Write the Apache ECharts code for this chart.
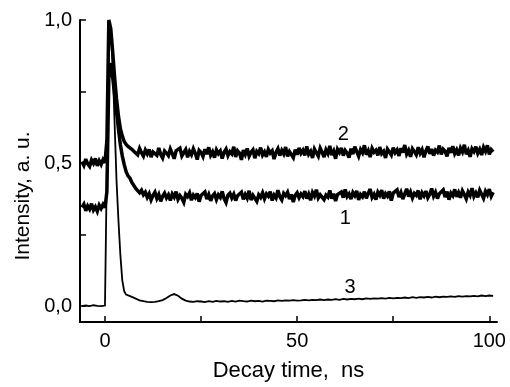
<!DOCTYPE html>
<html>
<head>
<meta charset="utf-8">
<script src="https://cdn.jsdelivr.net/npm/echarts@6/dist/echarts.min.js"></script>
<style>
html,body{margin:0;padding:0;background:#fff;}
#chart{width:510px;height:387px;}
</style>
</head>
<body>
<div id="chart"></div>
<script>
// Decay time, ns (curves 1 and 2, 0.5 ns sampling)
const timesFine = [-6,-5.5,-5,-4.5,-4,-3.5,-3,-2.5,-2,-1.5,-1,-0.5,0,
  0.5,1,1.5,2,2.5,3,3.5,4,4.5,5,5.5,6,
  6.5,7,7.5,8,8.5,9,9.5,10,10.5,11,11.5,12,12.5,13,13.5,14,14.5,15,15.5,16,
  16.5,17,17.5,18,18.5,19,19.5,20,20.5,21,21.5,22,22.5,23,23.5,24,24.5,25,25.5,26,
  26.5,27,27.5,28,28.5,29,29.5,30,30.5,31,31.5,32,32.5,33,33.5,34,34.5,35,35.5,36,
  36.5,37,37.5,38,38.5,39,39.5,40,40.5,41,41.5,42,42.5,43,43.5,44,44.5,45,45.5,46,
  46.5,47,47.5,48,48.5,49,49.5,50,50.5,51,51.5,52,52.5,53,53.5,54,54.5,55,55.5,56,
  56.5,57,57.5,58,58.5,59,59.5,60,60.5,61,61.5,62,62.5,63,63.5,64,64.5,65,65.5,66,
  66.5,67,67.5,68,68.5,69,69.5,70,70.5,71,71.5,72,72.5,73,73.5,74,74.5,75,75.5,76,
  76.5,77,77.5,78,78.5,79,79.5,80,80.5,81,81.5,82,82.5,83,83.5,84,84.5,85,85.5,86,
  86.5,87,87.5,88,88.5,89,89.5,90,90.5,91,91.5,92,92.5,93,93.5,94,94.5,95,95.5,96,
  96.5,97,97.5,98,98.5,99,99.5,100,100.5,101];

// Curve 1
const curve1 = [0.345,0.356,0.333,0.350,0.339,0.358,0.336,0.347,0.331,0.353,0.341,0.355,0.344,
  0.40,0.80,0.85,0.80,0.74,0.68,0.62,0.565,0.525,0.495,0.47,0.455,
  0.447,0.432,0.428,0.411,0.414,0.396,0.405,0.389,0.398,0.380,
  0.393,0.371,0.387,0.398,0.376,0.390,0.366,0.384,0.395,0.378,
  0.389,0.369,0.392,0.381,0.400,0.373,0.386,0.377,0.363,0.391,
  0.383,0.396,0.370,0.388,0.379,0.394,0.365,0.387,0.382,0.399,
  0.374,0.390,0.368,0.385,0.393,0.372,0.389,0.380,0.401,0.376,
  0.362,0.388,0.395,0.378,0.391,0.369,0.386,0.382,0.398,0.373,
  0.390,0.377,0.403,0.371,0.387,0.393,0.366,0.389,0.380,0.396,
  0.375,0.392,0.384,0.400,0.369,0.388,0.378,0.405,0.382,0.371,
  0.394,0.386,0.398,0.374,0.390,0.364,0.387,0.396,0.379,0.392,
  0.383,0.402,0.376,0.391,0.370,0.397,0.385,0.407,0.378,0.389,
  0.395,0.372,0.388,0.381,0.404,0.376,0.393,0.367,0.390,0.385,
  0.399,0.379,0.408,0.383,0.392,0.374,0.397,0.386,0.403,0.371,
  0.390,0.382,0.400,0.377,0.394,0.409,0.380,0.391,0.372,0.398,
  0.387,0.405,0.376,0.393,0.384,0.401,0.369,0.395,0.389,0.406,
  0.381,0.397,0.374,0.392,0.410,0.383,0.399,0.378,0.394,0.387,
  0.404,0.373,0.396,0.385,0.402,0.379,0.391,0.411,0.384,0.398,
  0.376,0.393,0.388,0.406,0.381,0.400,0.372,0.395,0.386,0.408,
  0.382,0.397,0.379,0.403,0.390,0.375,0.399,0.387,0.412,0.383,
  0.396,0.380,0.405,0.391,0.377,0.401,0.389,0.409,0.384,0.398];

// Curve 2
const curve2 = [0.505,0.492,0.514,0.497,0.488,0.511,0.499,0.516,0.490,0.508,0.495,0.512,0.501,
  0.58,1.0,0.97,0.89,0.80,0.725,0.665,0.62,0.595,0.575,0.565,0.558,
  0.553,0.548,0.541,0.546,0.529,0.551,0.536,0.524,0.545,0.532,
  0.548,0.521,0.539,0.544,0.527,0.553,0.530,0.518,0.542,0.535,
  0.526,0.549,0.533,0.515,0.543,0.538,0.552,0.525,0.536,0.547,
  0.520,0.541,0.529,0.550,0.534,0.512,0.544,0.537,0.523,0.548,
  0.531,0.555,0.527,0.539,0.519,0.546,0.533,0.542,0.516,0.538,
  0.549,0.526,0.540,0.532,0.557,0.521,0.543,0.535,0.511,0.545,
  0.530,0.551,0.524,0.538,0.546,0.517,0.541,0.533,0.554,0.528,
  0.539,0.522,0.548,0.535,0.543,0.514,0.537,0.550,0.526,0.544,
  0.532,0.556,0.523,0.540,0.536,0.519,0.547,0.529,0.553,0.534,
  0.545,0.527,0.558,0.531,0.541,0.518,0.549,0.536,0.524,0.552,
  0.538,0.521,0.546,0.533,0.560,0.528,0.542,0.515,0.548,0.537,
  0.553,0.526,0.544,0.535,0.519,0.550,0.531,0.557,0.540,0.524,
  0.547,0.536,0.562,0.529,0.543,0.521,0.551,0.538,0.545,0.527,
  0.556,0.533,0.541,0.518,0.549,0.539,0.528,0.554,0.536,0.546,
  0.525,0.552,0.537,0.563,0.531,0.544,0.522,0.550,0.540,0.529,
  0.555,0.534,0.547,0.520,0.543,0.558,0.532,0.549,0.526,0.545,
  0.538,0.561,0.530,0.548,0.541,0.523,0.553,0.536,0.559,0.533,
  0.546,0.527,0.552,0.539,0.564,0.531,0.544,0.522,0.550,0.540,
  0.557,0.534,0.548,0.528,0.555,0.541,0.562,0.530,0.547,0.539];

// Decay time, ns (curve 3)
const times3 = [-6,-5,-4,-3,-2,-1,0,0.5,1,1.5,2,2.5,3,3.5,4,4.5,5,5.5,6,
  7,8,9,10,11,12,13,14,15,16,17,18,19,20,21,22,23,24,25,26,27,28,29,30,
  31,32,33,34,35,36,37,38,39,40,41,42,43,44,45,46,47,48,49,50,51,52,53,54,
  55,56,57,58,59,60,61,62,63,64,65,66,67,68,69,70,71,72,73,74,75,76,77,78,
  79,80,81,82,83,84,85,86,87,88,89,90,91,92,93,94,95,96,97,98,99,100,101];

// Curve 3
const curve3 = [0.0,0.002,0.0,0.003,0.001,0.0,0.002,0.005,0.99,0.96,0.84,0.64,0.44,0.30,0.18,0.09,0.052,0.04,0.036,
  0.032,0.026,0.020,0.017,0.015,0.014,0.015,0.017,0.021,0.028,0.037,0.042,0.036,0.026,0.019,0.016,0.015,0.017,0.016,0.014,0.017,0.015,0.018,0.016,
  0.017,0.015,0.018,0.016,0.019,0.017,0.016,0.019,0.017,0.018,0.016,0.019,0.018,0.017,0.020,0.018,0.020,0.019,0.021,0.019,0.020,0.022,0.020,0.022,
  0.021,0.023,0.021,0.023,0.022,0.024,0.022,0.025,0.023,0.025,0.024,0.026,0.024,0.027,0.025,0.027,0.026,0.028,0.026,0.029,0.027,0.029,0.028,0.030,
  0.028,0.031,0.029,0.031,0.030,0.032,0.030,0.033,0.031,0.033,0.032,0.034,0.032,0.035,0.033,0.035,0.034,0.036,0.034,0.037,0.035,0.037,0.036];

const curveNames = ['1','2','3'];
const xTickValues = [0, 25, 50, 75, 100];
const xLabelValues = [0, 50, 100];
const yTickValues = [0, 0.25, 0.5, 0.75, 1.0];
const yLabelValues = [0, 0.5, 1.0];

const pairs = (ts, arr) => ts.map((t, i) => [t, arr[i]]);
const FONT = '"Liberation Sans", Arial, sans-serif';
const chart = echarts.init(document.getElementById('chart'), null, {renderer: 'canvas'});

function lineSeries(name, ts, data, width, coord) {
  return {
    name: name, type: 'line', data: pairs(ts, data), showSymbol: false, symbol: 'none',
    animation: false, lineStyle: {color: '#000', width: width, join: 'miter', miterLimit: 3}, z: 3,
    markPoint: {
      symbol: 'circle', symbolSize: 0, silent: true, animation: false,
      label: {show: true, position: 'inside', formatter: name, color: '#000', fontSize: 20, fontFamily: FONT},
      data: [{coord: coord, value: name}]
    }
  };
}

chart.setOption({
  animation: false,
  backgroundColor: '#fff',
  grid: {left: 80, top: 20, right: 13, bottom: 63},
  xAxis: {
    type: 'value', min: -6.5, max: 102,
    name: 'Decay time,  ns', nameLocation: 'middle', nameGap: 38,
    nameTextStyle: {fontSize: 22, fontFamily: FONT, color: '#000'},
    axisLine: {onZero: false, lineStyle: {color: '#000', width: 2}},
    axisTick: {inside: true, length: 6, customValues: xTickValues, lineStyle: {color: '#000', width: 1.5}},
    axisLabel: {customValues: xLabelValues, fontSize: 20, fontFamily: FONT, color: '#000', margin: 9},
    splitLine: {show: false}
  },
  yAxis: {
    type: 'value', min: -0.0556, max: 1.0,
    name: 'Intensity, a. u.', nameLocation: 'middle', nameGap: 44, nameRotate: 90,
    nameTextStyle: {fontSize: 21, fontFamily: FONT, color: '#000', padding: [0, 50, 0, 0]},
    axisLine: {onZero: false, lineStyle: {color: '#000', width: 2}},
    axisTick: {inside: true, length: 6, customValues: yTickValues, lineStyle: {color: '#000', width: 1.5}},
    axisLabel: {customValues: yLabelValues, fontSize: 20, fontFamily: FONT, color: '#000', margin: 8,
      formatter: v => v.toFixed(1).replace('.', ',')},
    splitLine: {show: false}
  },
  series: [
    lineSeries(curveNames[0], timesFine, curve1, 3.5, [62.5, 0.305]),
    lineSeries(curveNames[1], timesFine, curve2, 3.5, [62, 0.60]),
    lineSeries(curveNames[2], times3, curve3, 1.8, [63.8, 0.066])
  ]
});
</script>
</body>
</html>
